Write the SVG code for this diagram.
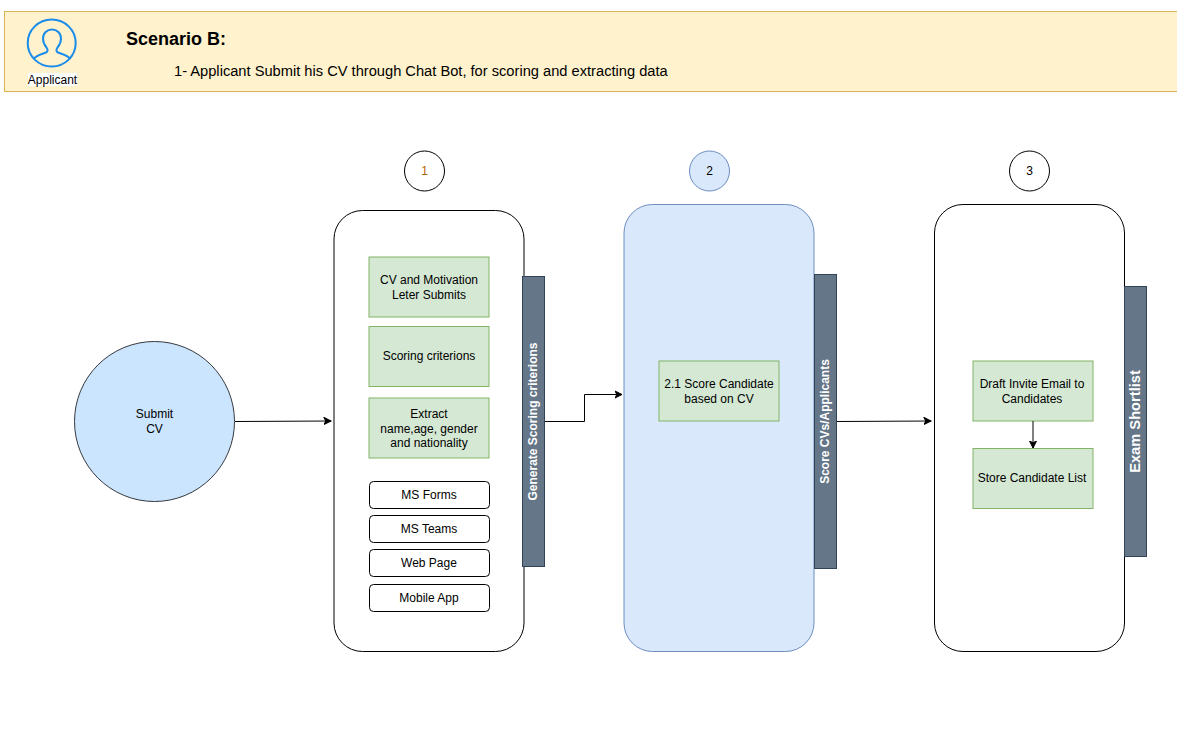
<svg xmlns="http://www.w3.org/2000/svg" width="1177" height="752" viewBox="0 0 1177 752">
<style>
text{font-family:"Liberation Sans",Arial,sans-serif;font-size:12px;fill:#000;text-anchor:middle}
.g{fill:#d5e8d4;stroke:#82b366}
.w{fill:#fff;stroke:#000}
.c{fill:#fff;stroke:#000}
.s{fill:#647687;stroke:#314354}
.b{font-weight:bold;fill:#fff}
.e{fill:none;stroke:#000;stroke-width:1;marker-end:url(#a)}
</style>
<defs><marker id="a" markerUnits="userSpaceOnUse" markerWidth="9" markerHeight="9" refX="7.5" refY="4.5" orient="auto"><path d="M0.5 1 L7.5 4.5 L0.5 8 L2.3 4.5Z" fill="#000" stroke="#000" stroke-width="1"/></marker></defs>
<rect width="1177" height="752" fill="#fff"/>
<g id="banner">
<rect x="4.500" y="11.500" width="1180" height="80" fill="#fff2cc" stroke="#d6b656"/>
<text x="126" y="45" style="font-size:18px;font-weight:bold;text-anchor:start">Scenario B:</text>
<text x="174" y="76" style="font-size:14.67px;text-anchor:start">1- Applicant Submit his CV through Chat Bot, for scoring and extracting data</text>
</g>
<g id="applicant">
<ellipse cx="51.700" cy="43" rx="24" ry="23.500" fill="none" stroke="#1a8ceb" stroke-width="2"/>
<path d="M33.500 59 C37 55 41 54.500 46 52.500 C48 51.500 48 49.500 46.500 47.500 C44 44.500 43 42 43 38.500 C43 33 47 29.500 52 29.500 C57 29.500 61 33 61 38.500 C61 42 60 44.500 57.500 47.500 C56 49.500 56 51.500 58 52.500 C63 54.500 67 55 70.500 59" fill="none" stroke="#1a8ceb" stroke-width="2"/>
<rect x="28" y="73" width="49" height="13" fill="#fff"/>
<text x="52.500" y="84">Applicant</text>
</g>
<g id="submit-cv">
<circle cx="154.500" cy="421.500" r="80" fill="#cce5ff" stroke="#36393d"/>
<text x="154.500" y="418">Submit</text><text x="154.500" y="433">CV</text>
</g>
<g id="badge-1"><circle class="c" cx="424.500" cy="171" r="20"/><text x="424.500" y="175" style="fill:#b46504">1</text></g>
<g id="badge-2"><circle cx="709.500" cy="171" r="20" fill="#dae8fc" stroke="#6c8ebf"/><text x="709.500" y="175">2</text></g>
<g id="badge-3"><circle class="c" cx="1029.500" cy="171" r="20"/><text x="1029.500" y="175">3</text></g>
<g id="panel-1">
<rect class="w" x="334" y="210.500" width="190" height="441" rx="28.500"/>
<rect class="s" x="522.500" y="276.500" width="22" height="290"/>
<text class="b" transform="translate(537 421.500) rotate(-90)">Generate Scoring criterions</text>
</g>
<g id="panel-2">
<rect x="624" y="204.500" width="190" height="447" rx="28.500" fill="#dae8fc" stroke="#6c8ebf"/>
<rect class="s" x="814.500" y="274.500" width="22" height="294"/>
<text class="b" transform="translate(829 421.500) rotate(-90)">Score CVs/Applicants</text>
</g>
<g id="panel-3">
<rect class="w" x="934.500" y="204.500" width="190" height="447" rx="28.500"/>
<rect class="s" x="1124.500" y="286.500" width="22" height="270"/>
<text class="b" transform="translate(1140 421.500) rotate(-90)" style="font-size:14.67px">Exam Shortlist</text>
</g>
<g id="cv-submits"><rect class="g" x="369" y="257" width="120" height="60"/><text x="429" y="284">CV and Motivation</text><text x="429" y="299">Leter Submits</text></g>
<g id="criterions"><rect class="g" x="369" y="326.500" width="120" height="60"/><text x="429" y="360">Scoring criterions</text></g>
<g id="extract"><rect class="g" x="369" y="398" width="120" height="60"/><text x="429" y="418">Extract</text><text x="429" y="433">name,age, gender</text><text x="429" y="447">and nationality</text></g>
<g id="ms-forms"><rect class="w" x="369.500" y="481.500" width="120" height="27" rx="4"/><text x="429" y="499">MS Forms</text></g>
<g id="ms-teams"><rect class="w" x="369.500" y="515.500" width="120" height="27" rx="4"/><text x="429" y="533">MS Teams</text></g>
<g id="web-page"><rect class="w" x="369.500" y="549.500" width="120" height="27" rx="4"/><text x="429" y="567">Web Page</text></g>
<g id="mobile-app"><rect class="w" x="369.500" y="584.500" width="120" height="27" rx="4"/><text x="429" y="602">Mobile App</text></g>
<g id="score-candidate"><rect class="g" x="659" y="361" width="120" height="60"/><text x="719" y="388">2.1 Score Candidate</text><text x="719" y="403">based on CV</text></g>
<g id="draft-invite"><rect class="g" x="973" y="361" width="120" height="60"/><text x="1032" y="388">Draft Invite Email to</text><text x="1032" y="403">Candidates</text></g>
<g id="store-list"><rect class="g" x="973" y="448.500" width="120" height="60"/><text x="1032" y="482">Store Candidate List</text></g>
<g id="connectors">
<path class="e" d="M235 421.500 L331 421"/>
<path class="e" d="M545 421.500 L584.500 421.500 L584.500 394.500 L622 394.500"/>
<path class="e" d="M837 421.500 L931 421"/>
<path class="e" d="M1033 421 L1033 448"/>
</g>
</svg>
